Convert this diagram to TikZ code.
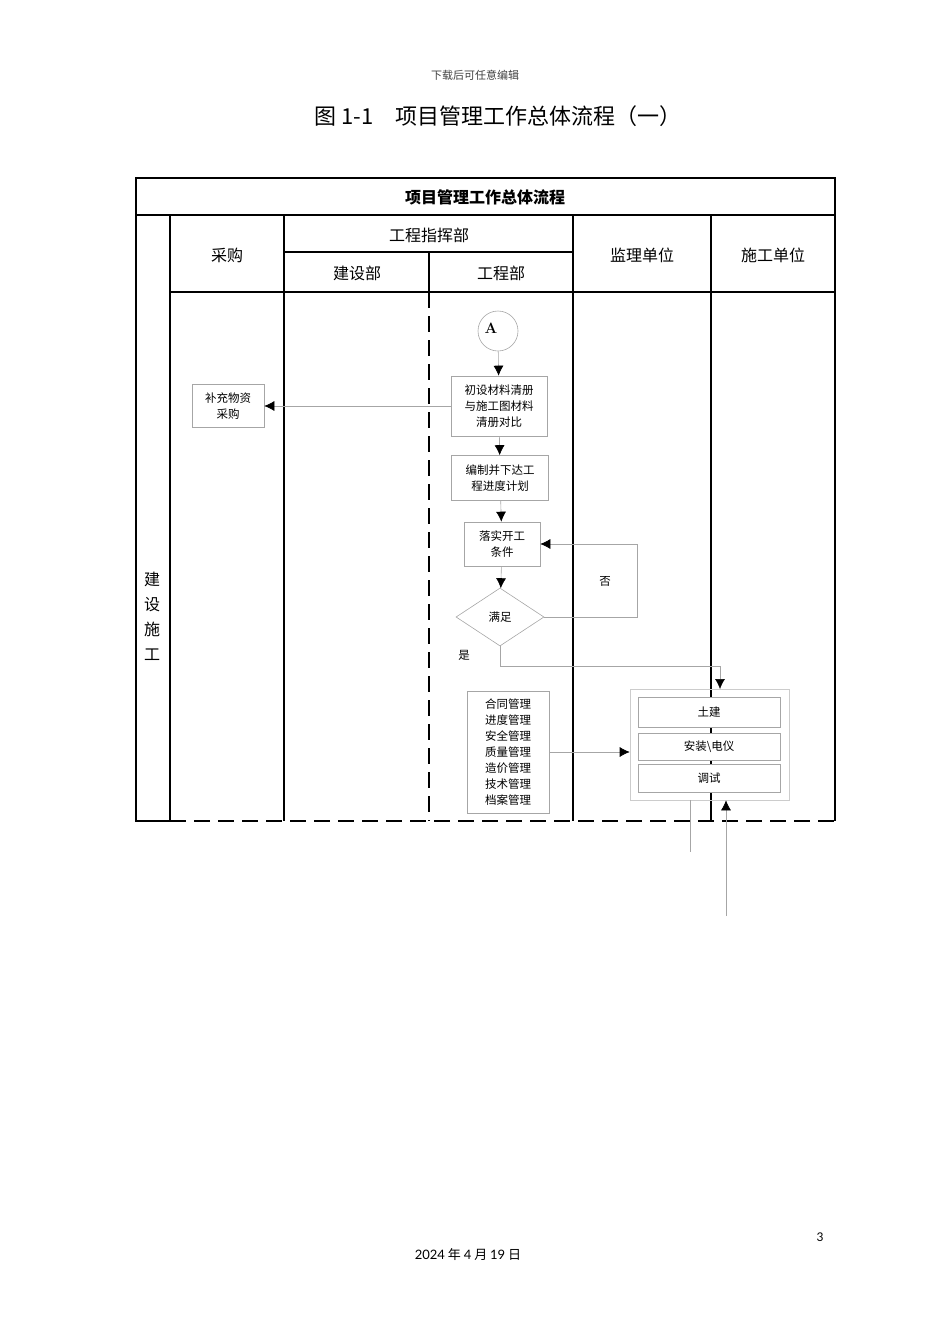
\documentclass[tikz,border=0pt]{standalone}
\usepackage{fontspec}
\newfontfamily\cjk{Noto Sans CJK SC}
\newfontfamily\lat{Lato}
\usetikzlibrary{shapes.geometric,arrows.meta}

\begin{document}
\begin{tikzpicture}[x=1pt, y=-1pt, lane/.style={line width=2.4pt}, dlane/.style={line width=2.4pt, dash pattern=on 16pt off 8pt}, hd/.style={font=\cjk\fontsize{16}{25}\selectfont, align=center}, box/.style={draw=black!35, line width=0.6pt, inner sep=0pt, align=center, font=\cjk\fontsize{11.5}{16}\selectfont}, n/.style={draw=black!35, line width=0.6pt, -{Latex[black,length=10pt,width=10pt]}}, l/.style={draw=black!35, line width=0.6pt}]
            \useasboundingbox (0,0) rectangle (950,1344);
            % page texts
            \node[font=\cjk\fontsize{11}{13}\selectfont, text=black!75] (top) at (475,75) {下载后可任意编辑};
            \node[font=\cjk\fontsize{22}{26}\selectfont] (title) at (498,116) {图 1-1\hspace{22pt}项目管理工作总体流程（一）};
            \node[font=\lat\fontsize{12}{14}\selectfont] (page) at (820,1237) {3};
            \node[font=\cjk\fontsize{13}{15}\selectfont] (date) at (468,1255) {{\lat 2024} 年 {\lat 4} 月 {\lat 19} 日};
            % table
            \draw[lane] (136,178) rectangle (835,215);
            \draw[lane] (136,215) -- (136,821) -- (170,821);
            \draw[lane] (170,215) -- (170,821);
            \draw[lane] (284,215) -- (284,821);
            \draw[lane] (573,215) -- (573,821);
            \draw[lane] (711,215) -- (711,821);
            \draw[lane] (835,215) -- (835,821);
            \draw[lane] (170,292) -- (835,292);
            \draw[lane] (284,252) -- (573,252);
            \draw[lane] (429,252) -- (429,292);
            \draw[dlane] (429,292) -- (429,821);
            \draw[dlane] (170,821) -- (835,821);
            % headers
            \node[hd, font=\cjk\bfseries\fontsize{16}{18}\selectfont] (head) at (485,197) {项目管理工作总体流程};
            \node[hd] (side) at (152,616) {建\\设\\施\\工};
            \node[hd] (buy) at (227,255) {采购};
            \node[hd] (hq) at (429,235) {工程指挥部};
            \node[hd] (con) at (357,273) {建设部};
            \node[hd] (eng) at (501,273) {工程部};
            \node[hd] (sup) at (642,255) {监理单位};
            \node[hd] (cons) at (773,255) {施工单位};
            % nodes
            \node[box, circle, minimum size=40pt] (A) at (498,331) {};
            \node[font=\rmfamily\bfseries\fontsize{15}{17}\selectfont] (Alab) at (491,328) {A};
            \node[box, minimum width=96pt, minimum height=60pt] (check) at (499,406) {初设材料清册\\与施工图材料\\清册对比};
            \node[box, minimum width=72pt, minimum height=43pt] (extra) at (228,406) {补充物资\\采购};
            \node[box, minimum width=97pt, minimum height=45pt] (plan) at (500,478) {编制并下达工\\程进度计划};
            \node[box, minimum width=76pt, minimum height=44pt] (ready) at (502,544) {落实开工\\条件};
            \node[box, diamond, aspect=1.5, minimum width=88pt, minimum height=58pt] (cond) at (500,617) {满足};
            \node[box, minimum width=82pt, minimum height=122pt] (mgmt) at (508,752) {合同管理\\进度管理\\安全管理\\质量管理\\造价管理\\技术管理\\档案管理};
            \node[box, draw=black!20, minimum width=159pt, minimum height=111pt] (grp) at (709.5,744.5) {};
            \node[box, fill=white, minimum width=142pt, minimum height=30pt] (civil) at (709,712) {土建};
            \node[box, fill=white, minimum width=142pt, minimum height=27pt] (inst) at (709,746.5) {安装\textbackslash 电仪};
            \node[box, fill=white, minimum width=142pt, minimum height=28pt] (test) at (709,778) {调试};
            \node[box, draw=none] (no) at (605,581) {否};
            \node[box, draw=none] (yes) at (464,655) {是};
            \coordinate (back) at (637,617);
            \coordinate (gin) at (720,689);
            \coordinate (out1) at (690,852);
            \coordinate (in1) at (726,916);
            % edges
            \draw[n] (A) -- (check);
            \draw[n] (check) -- (extra);
            \draw[n] (check) -- (plan);
            \draw[n] (plan) -- (ready);
            \draw[n] (ready) -- (cond);
            \draw[n] (cond.east) -- (back) |- (ready.east);
            \draw[n] (cond.south) -- (500,666) -| (gin);
            \draw[n] (mgmt.east) -- (mgmt.east -| grp.west);
            \draw[l] (out1 |- grp.south) -- (out1);
            \draw[n] (in1) -- (in1 |- grp.south);
        \end{tikzpicture}
\end{document}
